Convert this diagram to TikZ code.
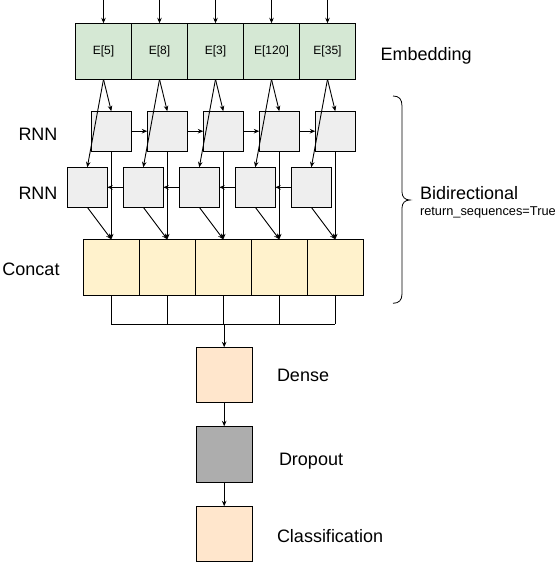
\documentclass[tikz,border=0pt]{standalone}
\usepackage{fontspec}
\setmainfont{Liberation Sans}
\usetikzlibrary{arrows.meta}
\definecolor{embfill}{HTML}{D5E8D4}
\definecolor{rnnfill}{HTML}{EEEEEE}
\definecolor{catfill}{HTML}{FFF2CC}
\definecolor{densefill}{HTML}{FFE6CC}
\definecolor{dropfill}{HTML}{ADADAD}
\begin{document}
\begin{tikzpicture}[x=1pt,y=-1pt,line width=0.9pt,
  >={Stealth[length=5.5pt,width=4.5pt]},
  box/.style={draw=black,inner sep=0pt,outer sep=0pt,minimum width=56pt,minimum height=56pt},
  embbox/.style={box,fill=embfill,font=\fontsize{12}{14}\selectfont},
  rnnbox/.style={draw=black,fill=rnnfill,inner sep=0pt,outer sep=0pt,minimum width=40pt,minimum height=40pt},
  catbox/.style={box,fill=catfill},
  densebox/.style={box,fill=densefill,minimum height=55.4pt},
  dropbox/.style={box,fill=dropfill},
  lbl/.style={inner sep=0pt,outer sep=0pt,anchor=base west,font=\fontsize{18}{20}\selectfont},
  lblc/.style={inner sep=0pt,outer sep=0pt,anchor=base,font=\fontsize{18}{20}\selectfont},
  conn/.style={->}
]
\useasboundingbox (0,0) rectangle (560,563);

% embedding
\foreach \i/\t in {1/{E[5]},2/{E[8]},3/{E[3]},4/{E[120]},5/{E[35]}}{
  \node[embbox] (e\i) at ({103.5+56*(\i-1)},51.3) {\t};
  \coordinate (in\i) at ({103.5+56*(\i-1)},0);
  \node[rnnbox] (f\i) at ({111.3+56*(\i-1)},131.2) {};
  \node[rnnbox] (b\i) at ({87.3+56*(\i-1)},187.3) {};
  \node[catbox] (c\i) at ({111.3+56*(\i-1)},267.3) {};
  \coordinate (j\i) at ({111.3+56*(\i-1)},324.3);
}
\coordinate (jm) at (224.2,324.3);

\node[densebox] (dense) at (224.2,375) {};
\node[dropbox] (drop) at (224.2,454.3) {};
\node[densebox] (cls) at (224.2,534) {};

% labels
\node[lbl] (lemb) at (380.7,60) {Embedding};
\node[lblc] (lrnn1) at (38,140) {RNN};
\node[lblc] (lrnn2) at (38,199) {RNN};
\node[lblc] (lcat) at (31,275.5) {Concat};
\node[lbl] (lbid) at (420,199) {Bidirectional};
\node[inner sep=0pt,outer sep=0pt,anchor=base west,font=\fontsize{12.8}{14}\selectfont] (lret) at (420,215.5) {return\_sequences=True};
\node[lbl] (ldense) at (277,381.7) {Dense};
\node[lbl] (ldrop) at (279,465) {Dropout};
\node[lbl] (lcls) at (277,542) {Classification};

% brace
\draw[line width=0.8pt] (393,96) .. controls (399,96) and (402,99) .. (402,106)
  -- (402,192) .. controls (402,197) and (405,200) .. (410,200)
  .. controls (405,200) and (402,203) .. (402,208)
  -- (402,294) .. controls (402,300) and (399,303.3) .. (393,303.3);

% connectors
\foreach \i in {1,...,5}{
  \draw[conn] (in\i) -- (e\i.north);
  \draw[conn] (e\i.south) -- (f\i.north);
  \draw[conn] (e\i.south) -- (b\i.north);
  \draw[conn] (f\i.south) -- (c\i.north);
  \draw[conn] (b\i.south) -- (c\i.north);
  \draw (c\i.south) -- (j\i);
}
\foreach \i/\n in {1/2,2/3,3/4,4/5}{
  \draw[conn] (f\i.east) -- (f\n.west);
  \draw[conn] (b\n.west) -- (b\i.east);
}
\draw (j1) -- (j5);
\draw[conn] (jm) -- (dense.north);
\draw[conn] (dense.south) -- (drop.north);
\draw[conn] (drop.south) -- (cls.north);
\end{tikzpicture}
\end{document}
